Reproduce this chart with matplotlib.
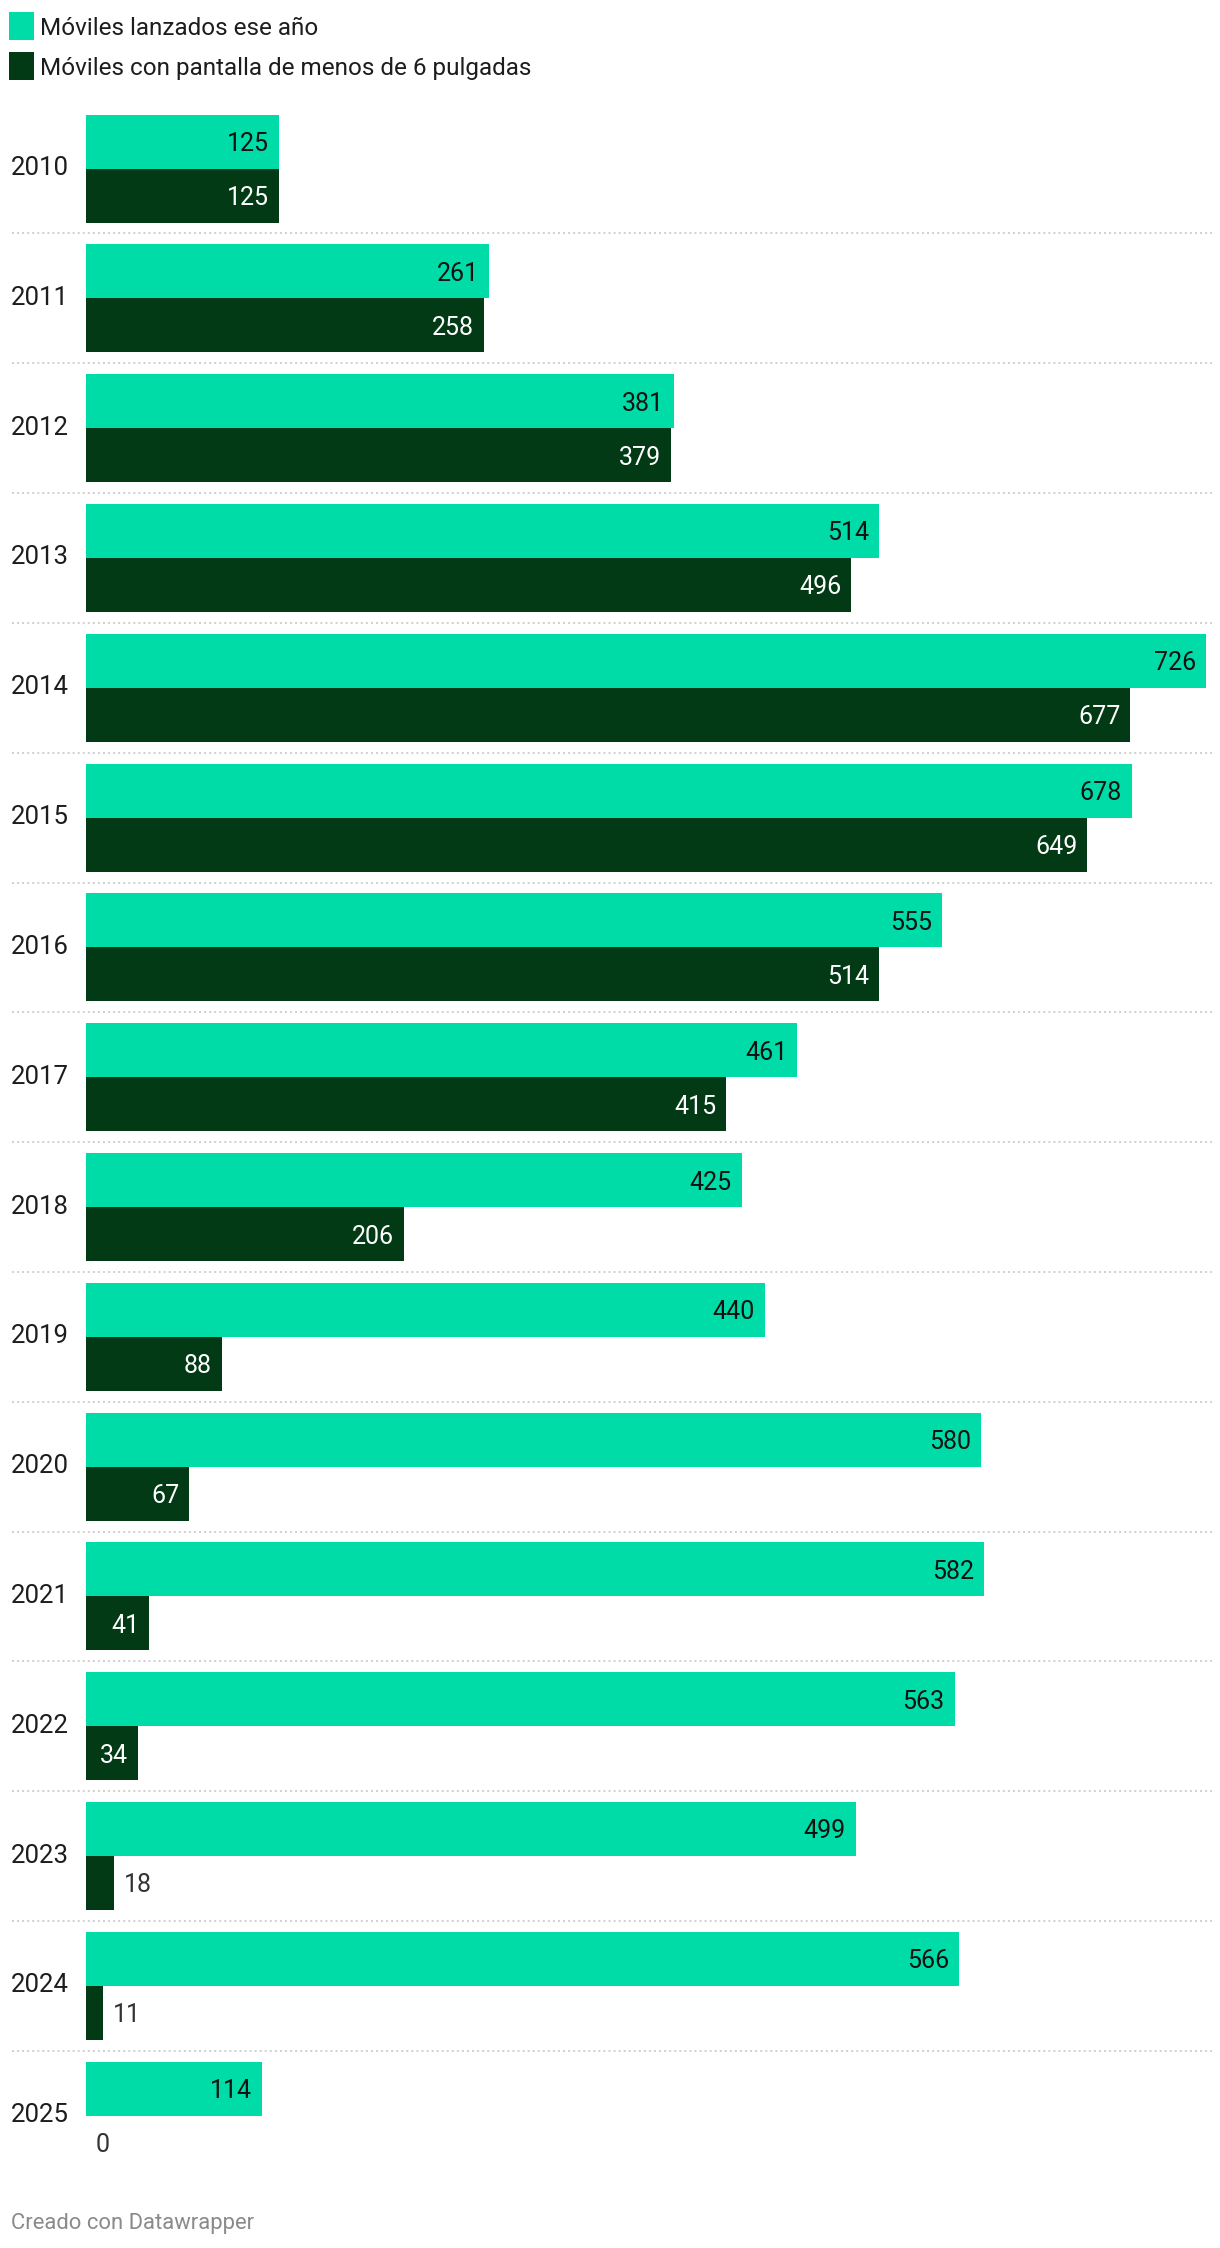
import matplotlib

matplotlib.use("Agg")
import matplotlib.pyplot as plt
from matplotlib.patches import Rectangle
from matplotlib.transforms import blended_transform_factory

LIGHT, DARK = "#00dca8", "#023a16"
SEP, INK, GREY = "#cfcfcf", "#1d1d1d", "#8a8a8a"

years = ["2010", "2011", "2012", "2013", "2014", "2015", "2016", "2017",
         "2018", "2019", "2020", "2021", "2022", "2023", "2024", "2025"]
lanzados = [125, 261, 381, 514, 726, 678, 555, 461, 425, 440, 580, 582,
            563, 499, 566, 114]
pequenos = [125, 258, 379, 496, 677, 649, 514, 415, 206, 88, 67, 41, 34,
            18, 11, 0]
series_labels = ["Móviles lanzados ese año",
                 "Móviles con pantalla de menos de 6 pulgadas"]

plt.rcParams.update({"font.family": ["Roboto", "DejaVu Sans"],
                     "font.size": 18})

W, H = 1220, 2248
fig = plt.figure(figsize=(W / 100, H / 100), dpi=100)

# plot area in pixels
x0, x1 = 86, 1206
pitch = 129.8
c0 = 168.6  # centre of first group (px from top)
top = c0 - 0.5 * pitch
bot = c0 + 15.5 * pitch
ax = fig.add_axes([x0 / W, 1 - bot / H, (x1 - x0) / W, (bot - top) / H])
ax.set_xlim(0, max(lanzados))
ax.set_ylim(len(years) - 0.5, -0.5)
ax.axis("off")

h = 54 / pitch
px_per_unit = (x1 - x0) / max(lanzados)
pad = 10 / px_per_unit
ys = list(range(len(years)))

ax.barh([y - h / 2 for y in ys], lanzados, height=h, color=LIGHT, lw=0)
ax.barh([y + h / 2 for y in ys], pequenos, height=h, color=DARK, lw=0)

for y, v in zip(ys, lanzados):
    ax.text(v - pad, y - h / 2, str(v), ha="right", va="center_baseline",
            color="#111111", fontsize=18)
for y, v in zip(ys, pequenos):
    if v * px_per_unit > 45:
        ax.text(v - pad, y + h / 2, str(v), ha="right", va="center_baseline",
                color="white", fontsize=18)
    else:
        ax.text(v + pad, y + h / 2, str(v), ha="left", va="center_baseline",
                color="#333333", fontsize=18)

# year labels and dotted separators
tr = blended_transform_factory(fig.transFigure, ax.transData)
for y, yr in zip(ys, years):
    ax.text(11 / W, y - 3 / pitch, yr, transform=tr, ha="left",
            va="center_baseline", color=INK, fontsize=18.5)
for y in ys[:-1]:
    ax.plot([12 / W, 1212 / W], [y + 0.5, y + 0.5], transform=tr,
            color=SEP, lw=1.4, ls=(0, (1, 1.6)), clip_on=False)

# legend
for i, (lab, col) in enumerate(zip(series_labels, [LIGHT, DARK])):
    cy = 26 + i * 40
    fig.patches.append(Rectangle((9 / W, 1 - (cy + 14) / H), 25 / W, 28 / H,
                                 transform=fig.transFigure, color=col, lw=0))
    fig.text(40 / W, 1 - cy / H, lab, ha="left", va="center_baseline",
             color=INK, fontsize=17.5)

fig.text(11 / W, 1 - 2221 / H, "Creado con Datawrapper", ha="left",
         va="center_baseline", color=GREY, fontsize=15.8)

fig.savefig("out.png", dpi=100, facecolor="white")
